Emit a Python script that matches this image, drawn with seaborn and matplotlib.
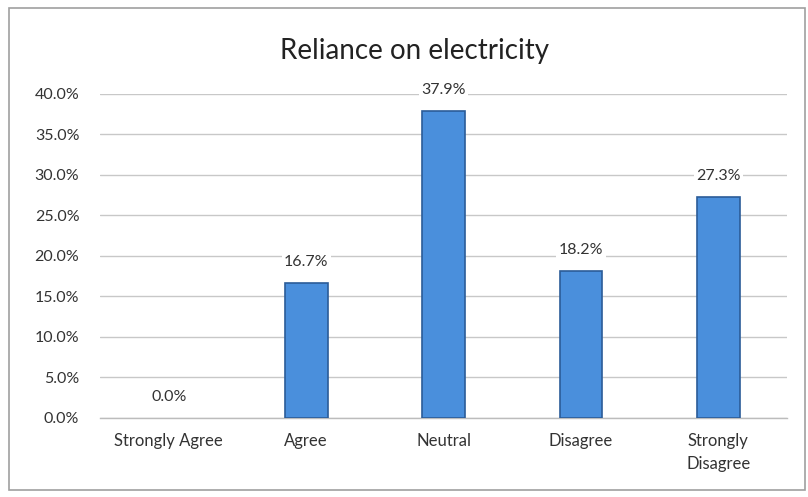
import matplotlib
matplotlib.use("Agg")
import matplotlib.pyplot as plt
from matplotlib.patches import Rectangle
from matplotlib.ticker import FuncFormatter
import seaborn as sns
import pandas as pd

categories = ["Strongly Agree", "Agree", "Neutral", "Disagree", "Strongly\nDisagree"]
shares = [0.0, 16.7, 37.9, 18.2, 27.3]
title = "Reliance on electricity"

sns.set_style("white")
plt.rcParams["font.family"] = ["Lato", "DejaVu Sans"]

df = pd.DataFrame({"category": categories, "share": shares})

fig = plt.figure(figsize=(8.08, 4.97), dpi=100)
ax = fig.add_axes([0.124, 0.159, 0.850, 0.652])

sns.barplot(data=df, x="category", y="share", ax=ax, color="#4a8fdc",
            width=0.31, edgecolor="#2b5c98", linewidth=1.2, saturation=1, zorder=3)
# a zero-height bar shows no outline
for patch in ax.patches:
    if patch.get_height() == 0:
        patch.set_linewidth(0)

ax.set_ylim(0, 40)
ax.set_yticks([0, 5, 10, 15, 20, 25, 30, 35, 40])
ax.yaxis.set_major_formatter(FuncFormatter(lambda v, p: f"{v:.1f}%"))
ax.grid(axis="y", color="#c8c8c8", linewidth=1.0, zorder=0)
ax.set_axisbelow(True)
for s in ["top", "right", "left"]:
    ax.spines[s].set_visible(False)
ax.spines["bottom"].set_color("#bcbcbc")
ax.spines["bottom"].set_linewidth(1.0)
ax.tick_params(axis="y", length=0, pad=15, labelsize=11.5, labelcolor="#333333")
ax.tick_params(axis="x", length=0, pad=11, labelsize=12, labelcolor="#333333")
for lbl in ax.get_xticklabels():
    lbl.set_linespacing(1.55)
ax.set_xlabel("")
ax.set_ylabel("")

for i, v in enumerate(shares):
    ax.annotate(f"{v:.1f}%", xy=(i, v), xytext=(0, 10), textcoords="offset points",
                ha="center", va="bottom", fontsize=11.5, color="#333333",
                bbox=dict(boxstyle="square,pad=0.15", fc="white", ec="none"), zorder=4)

fig.text(0.513, 0.898, title, ha="center", va="center", fontsize=20, color="#222222")

fig.patches.append(Rectangle((0.011, 0.014), 0.985, 0.97, transform=fig.transFigure,
                             fill=False, edgecolor="#a0a0a0", linewidth=1.2))

fig.savefig("out.png", dpi=100)
